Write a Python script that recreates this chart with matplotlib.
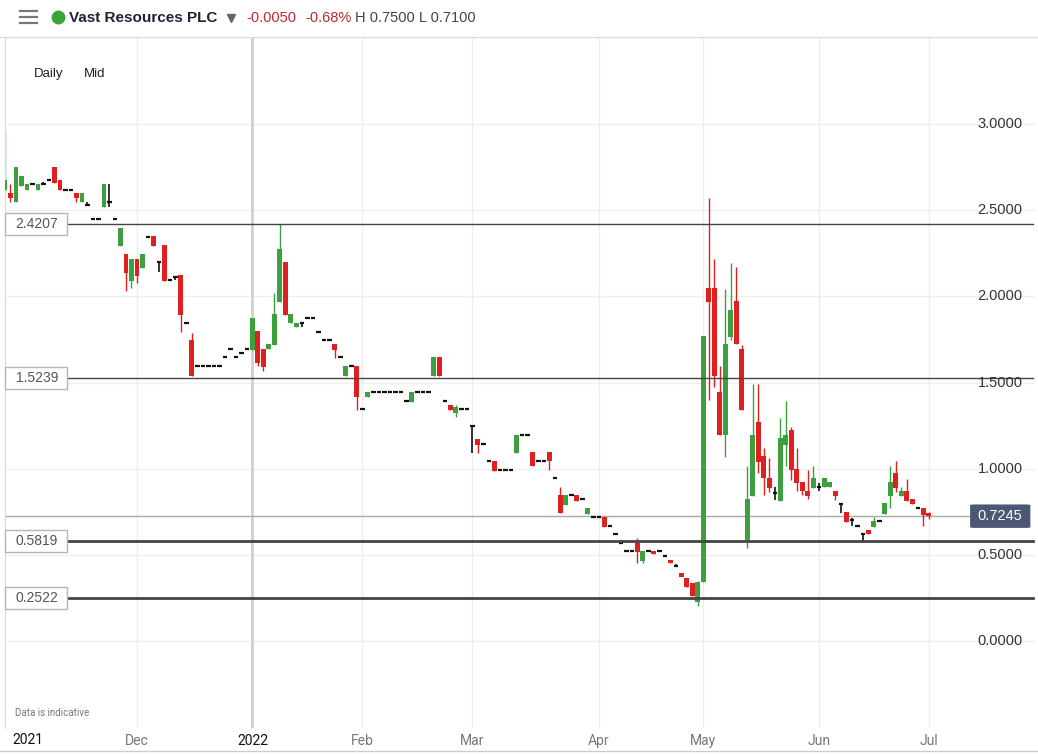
import numpy as np
import matplotlib.pyplot as plt
import matplotlib.transforms as mtransforms
from matplotlib.patches import Rectangle, FancyBboxPatch
from matplotlib.lines import Line2D

# Daily OHLC, one entry per trading day; index 0 = 1 Dec 2021
first_idx = -24

opens = [
    # Nov 2021 (from 28 Oct)
    2.617, 2.60, 2.55, 2.64, 2.62, 2.65, 2.62, 2.65, 2.676, 2.75, 2.676, 2.62,
    2.62, 2.60, 2.55, 2.53, 2.447, 2.447, 2.52, 2.55, 2.447, 2.29, 2.246, 2.09,
    # Dec
    2.22, 2.165, 2.345, 2.35, 2.20, 2.30, 2.095, 2.115, 2.124, 1.845, 1.747,
    1.596, 1.596, 1.596, 1.596, 1.596, 1.65, 1.695, 1.65, 1.673, 1.695,
    # Jan 2022
    1.689, 1.80, 1.695, 1.695, 1.718, 1.968, 2.20, 1.845, 1.822, 1.845,
    1.875, 1.875, 1.795, 1.747, 1.747, 1.724, 1.65, 1.538, 1.596, 1.596,
    # Feb
    1.346, 1.418, 1.443, 1.443, 1.443, 1.443, 1.443, 1.443, 1.393, 1.39,
    1.443, 1.443, 1.443, 1.538, 1.648, 1.393, 1.37, 1.323, 1.346, 1.346,
    # Mar
    1.25, 1.172, 1.143, 1.045, 1.045, 0.992, 0.992, 0.992, 1.093, 1.195, 1.195, 1.097,
    1.043, 1.043, 1.097, 0.944, 0.847, 0.789, 0.846, 0.847, 0.822, 0.737, 0.718,
    # Apr
    0.718, 0.718, 0.667, 0.619, 0.567, 0.522, 0.522, 0.571, 0.467, 0.522,
    0.522, 0.522, 0.493, 0.47, 0.437, 0.396, 0.364, 0.335, 0.228,
    # May
    0.342, 2.05, 2.05, 1.447, 1.195, 1.766, 1.973, 1.695, 0.586, 0.843, 1.273,
    1.074, 0.948, 0.857, 0.814, 1.138, 1.225, 0.998, 0.921, 0.871, 0.89,
    # Jun + 1 Jul
    0.894, 0.894, 0.894, 0.871, 0.795, 0.75, 0.70, 0.667, 0.619, 0.644, 0.664,
    0.698, 0.737, 0.841, 0.977, 0.842, 0.871, 0.822, 0.77, 0.77, 0.745,
]

highs = [
    2.95, 2.65, 2.75, 2.70, 2.65, 2.65, 2.65, 2.665, 2.676, 2.75, 2.676, 2.62,
    2.62, 2.60, 2.60, 2.55, 2.447, 2.447, 2.65, 2.65, 2.447, 2.40, 2.246, 2.22,
    2.22, 2.246, 2.345, 2.35, 2.20, 2.30, 2.095, 2.115, 2.124, 1.845, 1.79,
    1.596, 1.596, 1.596, 1.596, 1.596, 1.65, 1.695, 1.65, 1.673, 1.695,
    1.875, 1.80, 1.695, 1.724, 2.02, 2.42, 2.20, 1.898, 1.845, 1.845,
    1.875, 1.875, 1.795, 1.747, 1.747, 1.724, 1.65, 1.596, 1.596, 1.596,
    1.346, 1.445, 1.443, 1.443, 1.443, 1.443, 1.443, 1.443, 1.393, 1.445,
    1.443, 1.443, 1.443, 1.648, 1.648, 1.393, 1.37, 1.37, 1.346, 1.346,
    1.25, 1.172, 1.143, 1.045, 1.045, 0.992, 0.992, 0.992, 1.195, 1.195, 1.195, 1.097,
    1.043, 1.043, 1.097, 0.944, 0.894, 0.847, 0.846, 0.847, 0.822, 0.772, 0.718,
    0.718, 0.718, 0.667, 0.619, 0.567, 0.522, 0.522, 0.597, 0.522, 0.522,
    0.522, 0.53, 0.493, 0.47, 0.445, 0.396, 0.364, 0.335, 0.35,
    1.77, 2.57, 2.217, 1.596, 2.043, 2.195, 2.173, 1.718, 1.016, 1.49, 1.49,
    1.12, 1.06, 0.894, 1.294, 1.393, 1.242, 1.12, 0.921, 0.992, 1.016,
    0.919, 0.944, 0.925, 0.871, 0.795, 0.75, 0.716, 0.667, 0.619, 0.644, 0.721,
    0.698, 0.80, 1.016, 1.045, 0.894, 0.94, 0.822, 0.78, 0.77, 0.75,
]

lows = [
    2.60, 2.55, 2.55, 2.64, 2.62, 2.65, 2.62, 2.65, 2.676, 2.66, 2.617, 2.62,
    2.62, 2.55, 2.55, 2.53, 2.447, 2.447, 2.52, 2.52, 2.447, 2.29, 2.03, 2.05,
    2.08, 2.165, 2.345, 2.29, 2.14, 2.09, 2.095, 2.095, 1.795, 1.845, 1.538,
    1.596, 1.596, 1.596, 1.596, 1.596, 1.65, 1.695, 1.65, 1.673, 1.695,
    1.689, 1.598, 1.567, 1.695, 1.718, 1.968, 1.892, 1.845, 1.822, 1.822,
    1.875, 1.875, 1.795, 1.747, 1.747, 1.644, 1.65, 1.538, 1.596, 1.341,
    1.346, 1.418, 1.443, 1.443, 1.443, 1.443, 1.443, 1.443, 1.393, 1.39,
    1.443, 1.443, 1.443, 1.538, 1.538, 1.393, 1.341, 1.30, 1.346, 1.346,
    1.09, 1.093, 1.143, 1.045, 0.988, 0.992, 0.992, 0.992, 1.093, 1.195, 1.195, 1.017,
    1.043, 1.043, 0.992, 0.944, 0.741, 0.789, 0.846, 0.814, 0.822, 0.737, 0.718,
    0.718, 0.664, 0.667, 0.619, 0.567, 0.522, 0.522, 0.454, 0.454, 0.522,
    0.505, 0.522, 0.493, 0.451, 0.437, 0.373, 0.316, 0.261, 0.205,
    0.342, 1.399, 1.476, 1.195, 1.07, 1.747, 1.721, 1.341, 0.538, 0.843, 0.975,
    0.847, 0.867, 0.82, 0.814, 1.016, 0.934, 0.87, 0.85, 0.822, 0.89,
    0.87, 0.894, 0.894, 0.818, 0.745, 0.693, 0.667, 0.667, 0.571, 0.619, 0.664,
    0.698, 0.737, 0.772, 0.867, 0.842, 0.814, 0.793, 0.77, 0.667, 0.71,
]

closes = [
    2.676, 2.57, 2.75, 2.70, 2.65, 2.65, 2.65, 2.65, 2.676, 2.66, 2.617, 2.62,
    2.62, 2.57, 2.60, 2.53, 2.447, 2.447, 2.65, 2.55, 2.447, 2.40, 2.136, 2.22,
    2.12, 2.246, 2.345, 2.29, 2.20, 2.09, 2.095, 2.115, 1.892, 1.845, 1.538,
    1.596, 1.596, 1.596, 1.596, 1.596, 1.65, 1.695, 1.65, 1.673, 1.695,
    1.875, 1.613, 1.59, 1.724, 1.898, 2.275, 1.892, 1.898, 1.845, 1.845,
    1.875, 1.875, 1.795, 1.747, 1.747, 1.689, 1.65, 1.596, 1.596, 1.418,
    1.346, 1.445, 1.443, 1.443, 1.443, 1.443, 1.443, 1.443, 1.393, 1.445,
    1.443, 1.443, 1.443, 1.648, 1.538, 1.393, 1.341, 1.36, 1.346, 1.346,
    1.25, 1.138, 1.143, 1.045, 0.988, 0.992, 0.992, 0.992, 1.195, 1.195, 1.195, 1.017,
    1.043, 1.043, 1.043, 0.944, 0.741, 0.847, 0.846, 0.814, 0.822, 0.772, 0.718,
    0.718, 0.664, 0.667, 0.619, 0.567, 0.522, 0.522, 0.519, 0.522, 0.522,
    0.505, 0.522, 0.493, 0.451, 0.437, 0.373, 0.316, 0.261, 0.342,
    1.77, 1.97, 1.538, 1.195, 1.724, 1.921, 1.721, 1.341, 0.824, 1.195, 1.041,
    0.944, 0.89, 0.857, 1.178, 1.195, 0.992, 0.919, 0.871, 0.843, 0.944,
    0.894, 0.944, 0.925, 0.842, 0.795, 0.693, 0.70, 0.667, 0.619, 0.619, 0.696,
    0.698, 0.80, 0.925, 0.886, 0.871, 0.814, 0.793, 0.77, 0.73, 0.7245,
]

# month starts (trading-day index) and labels
month_pos = [0, 21, 41, 61, 84, 103, 124, 144]
month_labels = ['Dec', '2022', 'Feb', 'Mar', 'Apr', 'May', 'Jun', 'Jul']

# drawn support / resistance levels
levels = [2.4207, 1.5239, 0.5819, 0.2522]
level_widths = [1.0, 1.0, 2.0, 2.0]
last_price = 0.7245
price_ticks = [0.0, 0.5, 1.0, 1.5, 2.0, 2.5, 3.0]

GREEN = '#3f9e3f'
RED = '#e0201f'
FONT = 'Liberation Sans'

W, H = 1038, 755
fig = plt.figure(figsize=(W / 100, H / 100), dpi=100)
fig.patch.set_facecolor('white')

# plot area in pixels: x 5..1035, y 38..728
ax = fig.add_axes([5 / W, (H - 728) / H, 1030 / W, 690 / H])
ax.set_xlim(-24.0, 163.3)
ax.set_ylim(-0.505, 3.50)
for s in ['top', 'right', 'bottom']:
    ax.spines[s].set_visible(False)
ax.spines['left'].set_color('#d9d9d9')
ax.set_yticks([])

# gridlines
for v in price_ticks:
    ax.axhline(v, color='#efefef', lw=1, zorder=0)
for p, lab in zip(month_pos, month_labels):
    if lab == '2022':
        ax.axvline(p, color='#d0d0d0', lw=2, zorder=0)
    else:
        ax.axvline(p, color='#ececec', lw=1, zorder=0)

# candles
x = np.arange(len(opens)) + first_idx
o = np.array(opens)
h = np.array(highs)
l = np.array(lows)
c = np.array(closes)
up = c > o + 1e-6
down = c < o - 1e-6
flat = ~(up | down)
bw = 0.9

ax.vlines(x[up], l[up], h[up], color=GREEN, lw=1, zorder=2)
ax.bar(x[up], c[up] - o[up], bottom=o[up], width=bw, color=GREEN, lw=0, zorder=3)
ax.vlines(x[down], l[down], h[down], color=RED, lw=1, zorder=2)
ax.bar(x[down], o[down] - c[down], bottom=c[down], width=bw, color=RED, lw=0, zorder=3)
rng = flat & (h - l > 1e-6)
ax.vlines(x[rng], l[rng], h[rng], color='#111111', lw=1.2, zorder=2)
ax.hlines(o[flat], x[flat] - 0.4, x[flat] + 0.4, color='#111111', lw=1.6, zorder=3)

# level lines with boxed labels on the left
trans = mtransforms.blended_transform_factory(ax.transAxes, ax.transData)
for v, lw in zip(levels, level_widths):
    ax.axhline(v, xmin=0.0, xmax=0.998, color='#444444', lw=lw, zorder=4)
    ax.add_patch(Rectangle((0.0, v - 0.064), 0.0603, 0.128, transform=trans,
                           facecolor='white', edgecolor='#b5b5b5', lw=1,
                           zorder=5, clip_on=False))
    ax.text(0.031, v, f'{v:.4f}', transform=trans, ha='center', va='center',
            fontsize=10, color='#555555', family=FONT, zorder=6)

# last price line and tag
ax.axhline(last_price, xmin=0.0, xmax=0.94, color='#aaaaaa', lw=1, zorder=1)
ax.add_patch(FancyBboxPatch((0.937, last_price - 0.068), 0.0585, 0.136,
                            boxstyle='round,pad=0,rounding_size=0.004',
                            transform=trans, facecolor='#4a5875',
                            edgecolor='none', zorder=6, clip_on=False))
ax.text(0.966, last_price, f'{last_price:.4f}', transform=trans,
        ha='center', va='center', fontsize=10.5, color='white', family=FONT,
        zorder=7)

# price scale labels (drawn inside the plot, right side)
for v in price_ticks:
    ax.text(0.988, v, f'{v:.4f}', transform=trans, ha='right', va='center',
            fontsize=10.5, color='#333333', family=FONT, zorder=6)

# x axis labels
ax.set_xticks(month_pos)
ax.set_xticklabels(month_labels, family='Roboto', fontsize=10)
ax.tick_params(axis='x', length=0, pad=4)
for t, lab in zip(ax.get_xticklabels(), month_labels):
    t.set_color('#111111' if lab == '2022' else '#777777')
fig.text(28 / W, 1 - 740 / H, '2021', ha='center', va='center', fontsize=10,
         family='Roboto', color='#111111')
ax.text(10 / 1030, 0.015, 'Data is indicative', transform=ax.transAxes,
        ha='left', va='bottom', fontsize=7, family='Roboto', color='#777777')

# "Daily  Mid"
fig.text(34 / W, 1 - 74 / H, 'Daily', ha='left', va='center', fontsize=9.5,
         family=FONT, color='#222222')
fig.text(84 / W, 1 - 74 / H, 'Mid', ha='left', va='center', fontsize=9.5,
         family=FONT, color='#222222')

# header bar
fig.add_artist(Line2D([0, 1], [1 - 37 / H, 1 - 37 / H], color='#dddddd', lw=1))
for yy in (11, 17, 23):
    fig.add_artist(Line2D([20 / W, 37 / W], [1 - yy / H, 1 - yy / H],
                          color='#777777', lw=1.6))
fig.add_artist(Line2D([58 / W], [1 - 17 / H], marker='o', ms=9,
                      color='#3aa63a', lw=0))
fig.text(69 / W, 1 - 18 / H, 'Vast Resources PLC', ha='left', va='center',
         fontsize=11, fontweight='bold', family=FONT, color='#1c2333')
fig.add_artist(Line2D([231 / W], [1 - 18 / H], marker='v', ms=6,
                      color='#666666', lw=0))
fig.text(246 / W, 1 - 18 / H, '-0.0050', ha='left', va='center', fontsize=10.5,
         family=FONT, color='#c0272d')
fig.text(305 / W, 1 - 18 / H, '-0.68%', ha='left', va='center', fontsize=10.5,
         family=FONT, color='#c0272d')
fig.text(355 / W, 1 - 18 / H, 'H 0.7500 L 0.7100', ha='left', va='center',
         fontsize=10.5, family=FONT, color='#444444')

# bottom navigator strip
fig.add_artist(Line2D([0, 1], [1 - 751 / H, 1 - 751 / H], color='#cccccc', lw=1))

fig.savefig('out.png', dpi=100)
